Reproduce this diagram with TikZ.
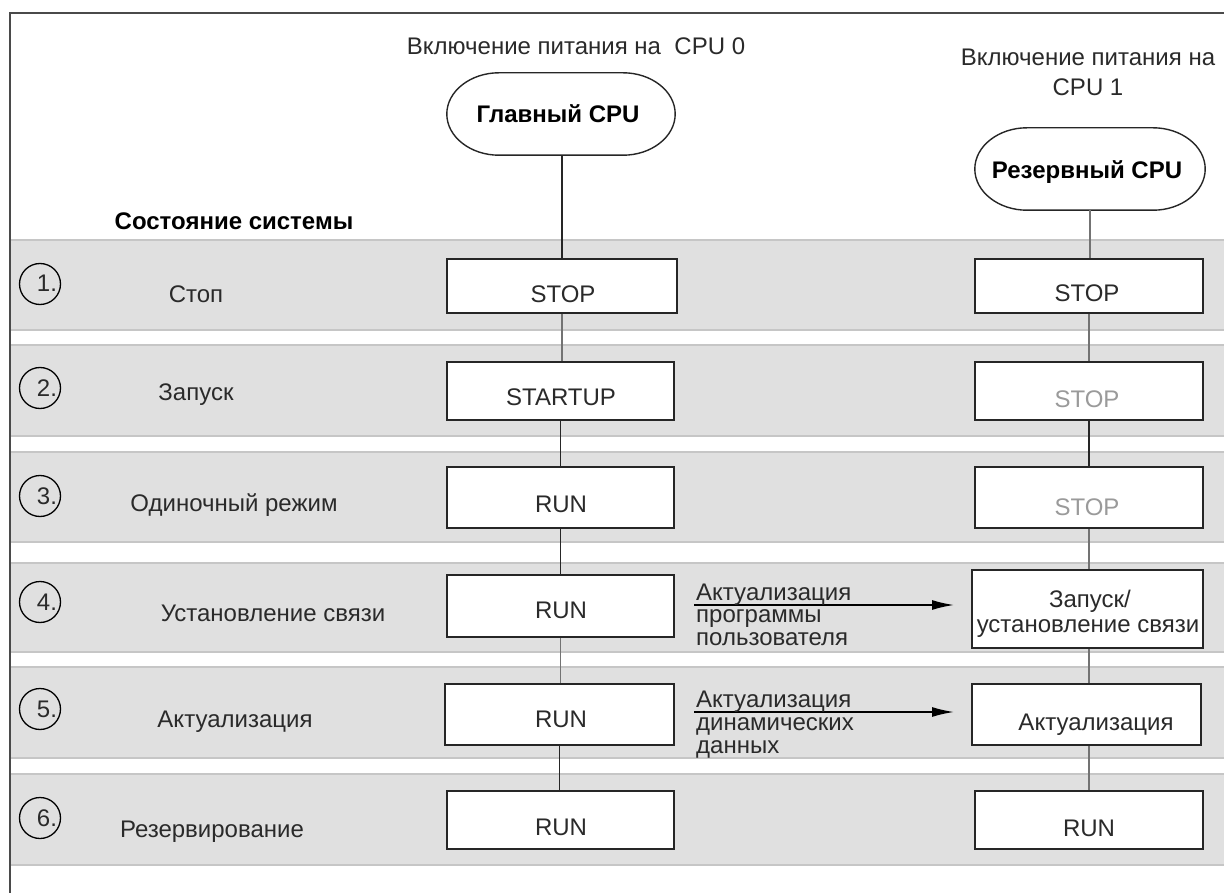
\documentclass[tikz,border=0pt]{standalone}
\usepackage{fontspec}
\setmainfont{Liberation Sans}
\usetikzlibrary{arrows.meta,calc}
\definecolor{bandfill}{HTML}{E0E0E0}
\definecolor{bandedge}{HTML}{C6C6C6}
\definecolor{textc}{HTML}{2A2A2A}
\definecolor{greytext}{HTML}{9A9A9A}
\definecolor{boxline}{HTML}{262626}
\definecolor{frameline}{HTML}{4A4A4A}
\newcommand{\drawcloud}[1]{%
  \draw[cloudline] ($(#1.north west)+(52,0)$) -- ($(#1.north east)+(-52,0)$)
    .. controls ($(#1.north east)+(-24,0)$) and ($(#1.east)+(0,-23)$) .. (#1.east)
    .. controls ($(#1.east)+(0,23)$) and ($(#1.south east)+(-24,0)$) .. ($(#1.south east)+(-52,0)$)
    -- ($(#1.south west)+(52,0)$)
    .. controls ($(#1.south west)+(24,0)$) and ($(#1.west)+(0,23)$) .. (#1.west)
    .. controls ($(#1.west)+(0,-23)$) and ($(#1.north west)+(24,0)$) .. cycle;}
\begin{document}
\begin{tikzpicture}[x=1pt,y=-1pt,
  txt/.style={font=\fontsize{24}{28}\selectfont, text=textc, inner sep=0pt, anchor=base},
  boldtxt/.style={txt, font=\fontsize{24}{28}\selectfont\bfseries, text=black},
  greyt/.style={txt, text=greytext},
  stbox/.style={draw=boxline, fill=white, line width=2pt, inner sep=0pt},
  numc/.style={circle, draw=black, line width=1.3pt, fill=bandfill, minimum size=41pt, inner sep=0pt},
  cloudarea/.style={draw=none, inner sep=0pt},
  cloudline/.style={draw=black!85, line width=1.4pt, fill=white},
  linkd/.style={draw=black!85, line width=1.8pt},
  linkl/.style={draw=black!55, line width=1.2pt},
  flow/.style={draw=black, line width=1.6pt, -{Latex[length=22pt,width=10pt]}, shorten >=17pt},
  labtxt/.style={txt, anchor=base west}
]
\useasboundingbox (0,0) rectangle (1224,893);
\fill[white] (0,0) rectangle (1224,893);

% bands
\foreach \a/\b in {240/330,345/436,452/542,563/652,667/758,774/865}{
  \fill[bandfill] (11,\a) rectangle (1224,\b);
  \draw[bandedge, line width=1.4pt] (11,\a) -- (1224,\a) (11,\b) -- (1224,\b);
}

% frame
\draw[frameline, line width=2pt] (10,893) -- (10,13) -- (1224,13);

% headings
\node[txt] (h0) at (576,55) {Включение питания на \ CPU 0};
\node[txt] (h1a) at (1088,66) {Включение питания на};
\node[txt] (h1b) at (1088,96) {CPU 1};
\node[boldtxt] (sys) at (234,230) {Состояние системы};

% clouds
\node[cloudarea, minimum width=228pt, minimum height=82pt] (G) at (561,114) {};
\drawcloud{G}
\node[boldtxt] (Gt) at (558,123) {Главный CPU};
\node[cloudarea, minimum width=230pt, minimum height=82pt] (R) at (1090,169) {};
\drawcloud{R}
\node[boldtxt] (Rt) at (1087,179) {Резервный CPU};

% step numbers
\foreach \n/\y in {1/284,2/388,3/496,4/602,5/709,6/818}{
  \node[numc] (n\n) at (40,\y) {};
  \node[txt] (nt\n) at (47,\y+8) {\n.};
}

% row labels
\node[txt] (s1) at (196,303) {Стоп};
\node[txt] (s2) at (196,400) {Запуск};
\node[txt] (s3) at (234,511) {Одиночный режим};
\node[txt] (s4) at (273,621) {Установление связи};
\node[txt] (s5) at (235,727) {Актуализация};
\node[txt] (s6) at (212,837) {Резервирование};

% left column boxes
\node[stbox, minimum width=230pt, minimum height=54pt] (L1) at (562,286) {};
\node[stbox, minimum width=227pt, minimum height=58pt] (L2) at (560.5,391) {};
\node[stbox, minimum width=227pt, minimum height=61pt] (L3) at (560.5,497.5) {};
\node[stbox, minimum width=227pt, minimum height=62pt] (L4) at (560.5,606) {};
\node[stbox, minimum width=229pt, minimum height=61pt] (L5) at (559.5,714.5) {};
\node[stbox, minimum width=227pt, minimum height=58pt] (L6) at (560.5,820) {};
\node[txt] (L1t) at (563,303) {STOP};
\node[txt] (L2t) at (561,405) {STARTUP};
\node[txt] (L3t) at (561,512) {RUN};
\node[txt] (L4t) at (561,618) {RUN};
\node[txt] (L5t) at (561,727) {RUN};
\node[txt] (L6t) at (561,835) {RUN};

% right column boxes
\node[stbox, minimum width=228pt, minimum height=54pt] (R1) at (1089,286) {};
\node[stbox, minimum width=228pt, minimum height=58pt] (R2) at (1089,391) {};
\node[stbox, minimum width=228pt, minimum height=61pt] (R3) at (1089,497.5) {};
\node[stbox, minimum width=231pt, minimum height=78pt] (R4) at (1087.5,609) {};
\node[stbox, minimum width=229pt, minimum height=61pt] (R5) at (1086.5,714.5) {};
\node[stbox, minimum width=228pt, minimum height=58pt] (R6) at (1089,820) {};
\node[txt] (R1t) at (1087,302) {STOP};
\node[greyt] (R2t) at (1087,407) {STOP};
\node[greyt] (R3t) at (1087,515) {STOP};
\node[txt] (R4a) at (1090,607) {Запуск/};
\node[txt] (R4b) at (1088,632) {установление связи};
\node[txt] (R5t) at (1096,730) {Актуализация};
\node[txt] (R6t) at (1089,836) {RUN};

% left connectors
\draw[linkd] (G.south -| L1.north) -- (L1.north);
\draw[linkl] (L1.south) -- (L1.south |- L2.north);
\draw[linkd] (L2.south) -- (L2.south |- L3.north);
\draw[linkd] (L3.south) -- (L3.south |- L4.north);
\draw[linkl] (L4.south) -- (L4.south |- L5.north);
\draw[linkd] (L5.south) -- (L5.south |- L6.north);

% right connectors
\draw[linkl] (R.south) -- (R.south |- R1.north);
\draw[linkl] (R1.south) -- (R1.south |- R2.north);
\draw[linkd] (R2.south) -- (R2.south |- R3.north);
\draw[linkl] (R3.south) -- (R3.south |- R4.north);
\draw[linkl] (R3.south |- R4.south) -- (R3.south |- R5.north);
\draw[linkl] (R3.south |- R5.south) -- (R3.south |- R6.north);

% transfer arrows
\coordinate (a1) at (694,605);
\coordinate (a2) at (694,712);
\draw[flow] (a1) -- (a1 -| R4.west);
\draw[flow] (a2) -- (a2 -| R5.west);
\node[labtxt] (a1t) at (696,600) {Актуализация};
\node[labtxt] (a1u) at (696,622) {программы};
\node[labtxt] (a1v) at (696,645) {пользователя};
\node[labtxt] (a2t) at (696,707) {Актуализация};
\node[labtxt] (a2u) at (696,730) {динамических};
\node[labtxt] (a2v) at (696,753) {данных};
\end{tikzpicture}
\end{document}
